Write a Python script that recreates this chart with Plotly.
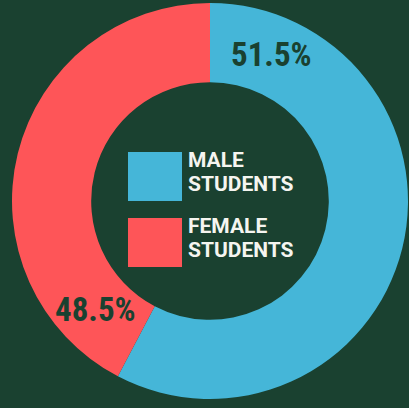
import plotly.graph_objects as go

W, H = 409, 408

categories = ["MALE STUDENTS", "FEMALE STUDENTS"]
legend_lines = [["MALE", "STUDENTS"], ["FEMALE", "STUDENTS"]]
# angular shares as drawn in the picture (labels show the stated percentages)
slice_share = [57.7, 42.3]
percent_labels = ["51.5%", "48.5%"]
colors = ["#45b6d8", "#fe5558"]
bg = "#1a4130"

fig = go.Figure(go.Pie(
    labels=categories,
    values=slice_share,
    hole=0.6,
    sort=False,
    direction="clockwise",
    rotation=0,
    marker=dict(colors=colors, line=dict(width=0)),
    textinfo="none",
    hoverinfo="label",
    showlegend=False,
    domain=dict(x=[12 / W, 408 / W], y=[1 - 399 / H, 1 - 3 / H]),
))

def px(x):
    return x / W

def py(y):
    return 1 - y / H

annotations = []
label_pos = [(271, 55), (95, 309)]
for txt, (x, y) in zip(percent_labels, label_pos):
    annotations.append(dict(
        x=px(x), y=py(y), xref="paper", yref="paper",
        text="<b>" + txt + "</b>", showarrow=False,
        xanchor="center", yanchor="middle",
        font=dict(family="Liberation Sans Narrow, Roboto Condensed, Roboto", size=33, color=bg),
    ))

shapes = []
sq_tops = [152, 218]
for i, (lines, top) in enumerate(zip(legend_lines, sq_tops)):
    shapes.append(dict(
        type="rect", xref="paper", yref="paper",
        x0=px(128), x1=px(182), y0=py(top + 49), y1=py(top),
        fillcolor=colors[i], line=dict(width=0),
    ))
    for j, line in enumerate(lines):
        annotations.append(dict(
            x=px(186), y=py(top + 8 + j * 24), xref="paper", yref="paper",
            text="<b>" + line + "</b>", showarrow=False,
            xanchor="left", yanchor="middle",
            font=dict(family="Roboto", size=21, color="#f5f5f0"),
        ))

fig.update_layout(
    width=W, height=H,
    margin=dict(l=0, r=0, t=0, b=0),
    paper_bgcolor=bg, plot_bgcolor=bg,
    annotations=annotations,
    shapes=shapes,
)

fig.write_html(
    "out.html",
    config={"displayModeBar": False},
    post_script="document.body.style.margin='0';document.body.style.overflow='hidden';document.body.style.background='" + bg + "';",
)
